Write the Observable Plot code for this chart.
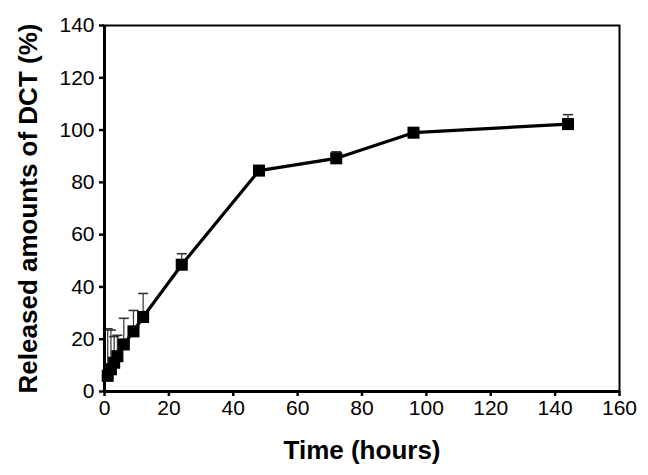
<!DOCTYPE html>
<html>
<head>
<meta charset="utf-8">
<script src="https://cdn.jsdelivr.net/npm/d3@7"></script>
<script src="https://cdn.jsdelivr.net/npm/@observablehq/plot@0.6"></script>
<style>
  html, body { margin: 0; padding: 0; background: #fff; }
  #chart svg { display: block; }
</style>
</head>
<body>
<div id="chart"></div>
<script>
// Data
const times = [1, 2, 3, 4, 6, 9, 12, 24, 48, 72, 96, 144];
const released = [6, 8.5, 11, 13.5, 18, 23, 28.5, 48.5, 84.5, 89.2, 99, 102.3];
const errors = [18, 15, 10, 8, 10, 8, 9, 4.2, 1.5, 2.5, 1, 3.6];
const xTicks = [0, 20, 40, 60, 80, 100, 120, 140, 160];
const yTicks = [0, 20, 40, 60, 80, 100, 120, 140];
const xTitle = "Time (hours)";
const yTitle = "Released amounts of DCT (%)";

const data = times.map((t, i) => ({t, v: released[i], e: errors[i], top: released[i] + errors[i]}));

const capSymbol = {
  draw(context, size) {
    const w = 5;
    context.moveTo(-w, 0);
    context.lineTo(w, 0);
  }
};

const font = "'Liberation Sans', Arial, Helvetica, sans-serif";

const chart = Plot.plot({
  width: 648,
  height: 475,
  marginLeft: 104,
  marginRight: 29,
  marginTop: 25,
  marginBottom: 84,
  style: {fontFamily: font, fontSize: "21px", background: "#fff", color: "#000"},
  x: {domain: [0, 160]},
  y: {domain: [0, 140]},
  marks: [
    Plot.frame({stroke: "#000", strokeWidth: 2}),
    Plot.axisX({ticks: xTicks, tickSize: 5, tickPadding: 4, fontSize: 21, label: null, strokeWidth: 2.5, stroke: "#000"}),
    Plot.axisY({ticks: yTicks, tickSize: 5, tickPadding: 5, fontSize: 21, label: null, strokeWidth: 2.5, stroke: "#000"}),
    Plot.ruleX(data, {x: "t", y1: "v", y2: "top", stroke: "#333", strokeWidth: 1.2}),
    Plot.dot(data, {x: "t", y: "top", symbol: capSymbol, stroke: "#333", strokeWidth: 1.6, fill: "none", r: 4}),
    Plot.line(data, {x: "t", y: "v", stroke: "#000", strokeWidth: 3.2}),
    Plot.dot(data, {x: "t", y: "v", symbol: "square", r: 6.8, fill: "#000", stroke: "none"}),
    Plot.ruleX([0], {stroke: "#000", strokeWidth: 3}),
    Plot.ruleY([0], {stroke: "#000", strokeWidth: 3}),
    Plot.text([xTitle], {frameAnchor: "bottom", dy: 59, fontSize: 26, fontWeight: "bold", fill: "#000", lineAnchor: "middle"}),
    Plot.text([yTitle], {frameAnchor: "left", dx: -76, rotate: -90, textAnchor: "middle", lineAnchor: "middle", fontSize: 26, fontWeight: "bold", fill: "#000"})
  ]
});

document.getElementById("chart").appendChild(chart);
</script>
</body>
</html>
